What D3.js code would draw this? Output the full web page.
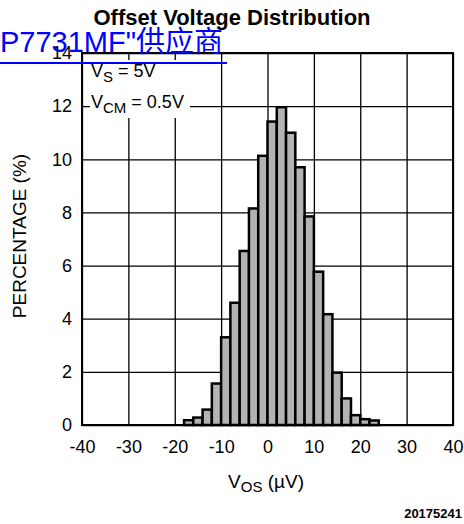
<!DOCTYPE html>
<html lang="en">
<head>
  <meta charset="UTF-8">
  <title>Offset Voltage Distribution</title>
  <style type="text/css" media="all">
    body { margin: 0; background: #fff; }
    svg { display: block; font-family: "Liberation Sans", Arial, sans-serif; }
  </style>
</head>
<body>
  <div id="graph"></div>
  <script src="https://cdn.jsdelivr.net/npm/d3@7/dist/d3.min.js" charset="utf-8"></script>
  <script>
    // histogram bins: centre of each 2uV bin, and percentage in it
    var binCenters = [-17, -15, -13, -11, -9, -7, -5, -3, -1, 1, 3, 5, 7, 9, 11, 13, 15, 17, 19, 21, 23];
    var percentages = [0.18, 0.28, 0.58, 1.56, 3.3, 4.6, 6.55, 8.15, 10.13, 11.42, 11.96, 11.0, 9.7, 7.85, 5.77, 4.17, 1.97, 1.0, 0.37, 0.22, 0.17];
    var binWidth = 2;

    var xTicks = [-40, -30, -20, -10, 0, 10, 20, 30, 40];
    var yTicks = [0, 2, 4, 6, 8, 10, 12, 14];

    var width = 464, height = 524;
    var plot = { left: 82, right: 453, top: 53, bottom: 425 };

    var svg = d3.select("#graph").append("svg")
        .attr("width", width)
        .attr("height", height);

    var x = d3.scaleLinear().domain([-40, 40]).range([plot.left, plot.right]);
    var y = d3.scaleLinear().domain([0, 14]).range([plot.bottom, plot.top]);

    // plain hyphen for negatives, like the original
    function fmt(d) { return String(d); }

    // grid + tick labels
    var yAxis = d3.axisLeft(y)
        .tickValues(yTicks)
        .tickFormat(fmt)
        .tickSize(-(plot.right - plot.left))
        .tickPadding(10);

    var xAxis = d3.axisBottom(x)
        .tickValues(xTicks)
        .tickFormat(fmt)
        .tickSize(-(plot.bottom - plot.top))
        .tickPadding(15);

    function styleAxis(g) {
      g.select(".domain").remove();
      g.selectAll(".tick line").attr("stroke", "#000").attr("stroke-width", 1.3);
      g.selectAll(".tick text")
        .attr("fill", "#000")
        .style("font-size", "18px")
        .style("font-family", "'Liberation Sans', Arial, sans-serif");
    }

    svg.append("g")
        .attr("transform", "translate(" + plot.left + ",0)")
        .call(yAxis)
        .call(styleAxis);

    svg.append("g")
        .attr("transform", "translate(0," + plot.bottom + ")")
        .call(xAxis)
        .call(styleAxis);

    // white patch behind the conditions text
    svg.append("rect")
        .attr("x", 90).attr("y", 60)
        .attr("width", 100).attr("height", 58)
        .attr("fill", "#fff");

    var cond = svg.append("g").style("font-size", "18px").attr("fill", "#000");
    var t1 = cond.append("text").attr("x", 91).attr("y", 77);
    t1.append("tspan").text("V");
    t1.append("tspan").attr("dy", 5).style("font-size", "15px").text("S");
    t1.append("tspan").attr("dy", -5).text(" = 5V");

    var t2 = cond.append("text").attr("x", 91).attr("y", 108);
    t2.append("tspan").text("V");
    t2.append("tspan").attr("dy", 5).style("font-size", "15px").text("CM");
    t2.append("tspan").attr("dy", -5).text(" = 0.5V");

    // bars
    svg.append("g").selectAll("rect")
        .data(binCenters)
        .join("rect")
        .attr("x", function(d) { return x(d - binWidth / 2); })
        .attr("width", function(d) { return x(d + binWidth / 2) - x(d - binWidth / 2); })
        .attr("y", function(d, i) { return y(percentages[i]); })
        .attr("height", function(d, i) { return y(0) - y(percentages[i]); })
        .attr("fill", "#b3b3b3")
        .attr("stroke", "#000")
        .attr("stroke-width", 2.5);

    // frame
    svg.append("rect")
        .attr("x", plot.left).attr("y", plot.top)
        .attr("width", plot.right - plot.left)
        .attr("height", plot.bottom - plot.top)
        .attr("fill", "none")
        .attr("stroke", "#000")
        .attr("stroke-width", 2);

    // titles
    svg.append("text")
        .attr("x", 232).attr("y", 25)
        .attr("text-anchor", "middle")
        .style("font-size", "22px")
        .style("font-weight", "bold")
        .text("Offset Voltage Distribution");

    svg.append("text")
        .attr("transform", "translate(26," + ((plot.top + plot.bottom) / 2 - 3) + ") rotate(-90)")
        .attr("text-anchor", "middle")
        .style("font-size", "19px")
        .text("PERCENTAGE (%)");

    var xl = svg.append("text")
        .attr("x", 266).attr("y", 488)
        .attr("text-anchor", "middle")
        .style("font-size", "19px");
    xl.append("tspan").text("V");
    xl.append("tspan").attr("dy", 4).style("font-size", "15px").text("OS");
    xl.append("tspan").attr("dy", -4).text(" (\u00b5V)");

    svg.append("text")
        .attr("x", 462).attr("y", 518)
        .attr("text-anchor", "end")
        .style("font-size", "13px")
        .style("font-weight", "bold")
        .text("20175241");

    // blue link overlay
    var link = svg.append("text")
        .attr("x", 0).attr("y", 52)
        .attr("fill", "#0000ff")
        .style("font-size", "29px")
        .style("font-family", "'Liberation Sans', 'Noto Sans CJK SC', sans-serif")
        .text("P7731MF\"供应商");
    var linkLen = link.node().getComputedTextLength();
    svg.append("line")
        .attr("x1", 0).attr("x2", linkLen + 4)
        .attr("y1", 63).attr("y2", 63)
        .attr("stroke", "#0000ff")
        .attr("stroke-width", 2);
  </script>
</body>
</html>
